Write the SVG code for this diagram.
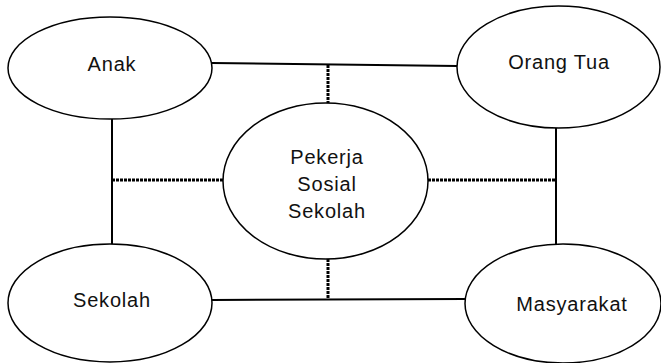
<svg xmlns="http://www.w3.org/2000/svg" width="661" height="363" viewBox="0 0 661 363">
<style>
.n{fill:#fff;stroke:#000;stroke-width:1.5}
.t{font-family:"Liberation Sans",Arial,sans-serif;font-size:20px;letter-spacing:0.8px;fill:#111;text-anchor:middle}
.s{stroke:#000;stroke-width:2;fill:none}
.d{stroke:#000;stroke-width:3;stroke-dasharray:3,1;fill:none}
</style>
<rect width="661" height="363" fill="#fff"/>
<g id="connectors">
<line class="s" x1="212" y1="63" x2="457" y2="66"/>
<line class="s" x1="112" y1="119" x2="112" y2="244"/>
<line class="s" x1="212" y1="300" x2="465" y2="299"/>
<line class="s" x1="556" y1="128" x2="556" y2="244"/>
<line class="d" x1="328" y1="65" x2="328" y2="103"/>
<line class="d" x1="328" y1="259" x2="328" y2="300"/>
<line class="d" x1="112" y1="180" x2="223" y2="180"/>
<line class="d" x1="428" y1="180" x2="556" y2="180"/>
</g>
<g id="anak"><ellipse class="n" cx="110" cy="68" rx="102" ry="51"/><text class="t" x="112" y="71">Anak</text></g>
<g id="orangtua"><ellipse class="n" cx="558.5" cy="67" rx="101.5" ry="61"/><text class="t" x="559" y="69">Orang Tua</text></g>
<g id="sekolah"><ellipse class="n" cx="110" cy="303" rx="102" ry="59"/><text class="t" x="112" y="307">Sekolah</text></g>
<g id="masyarakat"><ellipse class="n" cx="563" cy="303.5" rx="98" ry="59.5"/><text class="t" x="572" y="311">Masyarakat</text></g>
<g id="pekerja"><ellipse class="n" cx="325.5" cy="181" rx="102.5" ry="78"/>
<text class="t" x="327" y="164">Pekerja</text>
<text class="t" x="327" y="191">Sosial</text>
<text class="t" x="327" y="218">Sekolah</text></g>
</svg>
